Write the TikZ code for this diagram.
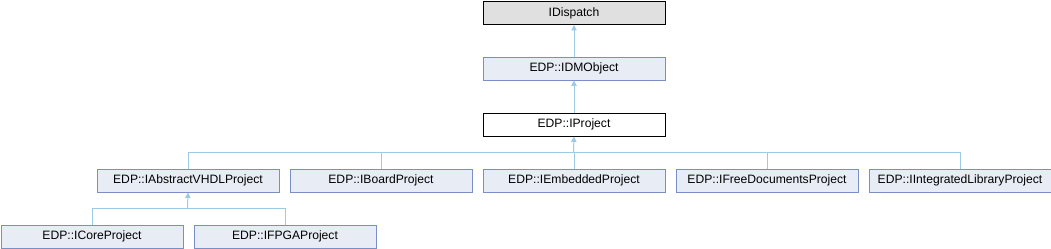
\documentclass[tikz,border=0pt]{standalone}
\usepackage{fontspec}
\setmainfont{Liberation Sans}
\usetikzlibrary{arrows.meta}
\definecolor{nodefill}{HTML}{E8ECF5}
\definecolor{nodeborder}{HTML}{7A8FC4}
\definecolor{graybox}{HTML}{E0E0E0}
\definecolor{edgecol}{HTML}{9ECAE6}
\tikzset{
  cls/.style={draw=nodeborder, fill=nodefill, line width=0.75pt, minimum width=136.5pt, minimum height=17.25pt, inner sep=0pt, font=\fontsize{9.1pt}{10pt}\selectfont, anchor=north west},
  ext/.style={cls, draw=black, fill=graybox},
  cur/.style={cls, draw=black, fill=white},
  edge/.style={draw=edgecol, line width=0.75pt},
  inh/.style={edge, {Triangle[width=4pt,length=4pt,fill=edgecol]}-}
}
\begin{document}
\begin{tikzpicture}[x=0.75pt,y=-0.75pt]
\useasboundingbox (0,0) rectangle (1051,248);
\node[ext] (idisp) at (482.5,1) {IDispatch};
\node[cls] (idm) at (482.5,56.5) {EDP::IDMObject};
\node[cur] (iproj) at (482.5,112.5) {EDP::IProject};
\node[cls] (vhdl) at (96.5,168.5) {EDP::IAbstractVHDLProject};
\node[cls] (board) at (289.5,168.5) {EDP::IBoardProject};
\node[cls] (emb) at (482.5,168.5) {EDP::IEmbeddedProject};
\node[cls] (free) at (675.5,168.5) {EDP::IFreeDocumentsProject};
\node[cls] (intlib) at (868.5,168.5) {EDP::IIntegratedLibraryProject};
\node[cls] (core) at (0.5,224.5) {EDP::ICoreProject};
\node[cls] (fpga) at (193.5,224.5) {EDP::IFPGAProject};
\coordinate (bar1) at (573.5,152.5);
\coordinate (bar2) at (187.5,208.5);
\draw[inh] (idisp.south) -- (idm.north);
\draw[inh] (idm.south) -- (iproj.north);
\draw[inh] (iproj.south) -- (bar1);
\foreach \n in {vhdl,board,emb,free,intlib}
  \draw[edge] (bar1) -| (\n.north);
\draw[inh] (vhdl.south) -- (bar2);
\foreach \n in {core,fpga}
  \draw[edge] (bar2) -| (\n.north);
\end{tikzpicture}
\end{document}
